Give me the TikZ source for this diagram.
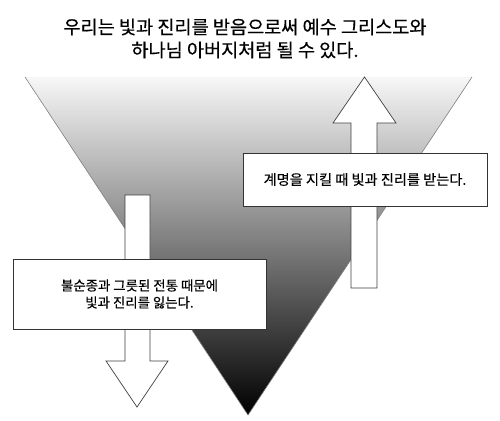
\documentclass[tikz,border=0pt]{standalone}
\usepackage{fontspec}
\setmainfont{Noto Sans CJK KR}[FakeBold=0.35]
\tikzset{
  blockarrow/.style={draw=black!75,fill=white,line width=0.7pt,line join=miter},
  textbox/.style={rectangle,draw=black!80,fill=white,line width=0.8pt,inner sep=0pt,align=center,
    font=\fontsize{13.4}{17}\selectfont}
}
\begin{document}
\begin{tikzpicture}[x=1pt,y=-1pt]

      \useasboundingbox (0,0) rectangle (500,420);

      % funnel
      \coordinate (tl) at (25,77);
      \coordinate (tr) at (472,77);
      \coordinate (apex) at (248,415);
      \shade[top color=gray!6,bottom color=black] (tl) -- (tr) -- (apex) -- cycle;
      \draw[gray,line width=0.6pt] (tl) -- (apex) -- (tr);

      \node (title) at (245,38.5) [align=center,font=\fontsize{18.6}{23}\selectfont]
        {우리는 빛과 진리를 받음으로써 예수 그리스도와\\하나님 아버지처럼 될 수 있다.};

      % arrows
      \draw[blockarrow] (351,288) -- (351,123) -- (333,123) -- (364.5,77)
        -- (396,123) -- (377,123) -- (377,288) -- cycle;
      \draw[blockarrow] (125,195) -- (150,195) -- (150,361) -- (168,361)
        -- (137,407) -- (106,361) -- (125,361) -- cycle;

      \begin{scope}[every node/.style={textbox}]
        \node (keep) at (365,179.5) [minimum width=244pt,minimum height=53pt,font=\fontsize{14.2}{17}\selectfont]
          {계명을 지킬 때 빛과 진리를 받는다.};
        \node (lose) at (139.5,294) [minimum width=253pt,minimum height=70pt]
          {불순종과 그릇된 전통 때문에\\빛과 진리를 잃는다.};
      \end{scope}

    \end{tikzpicture}
\end{document}
